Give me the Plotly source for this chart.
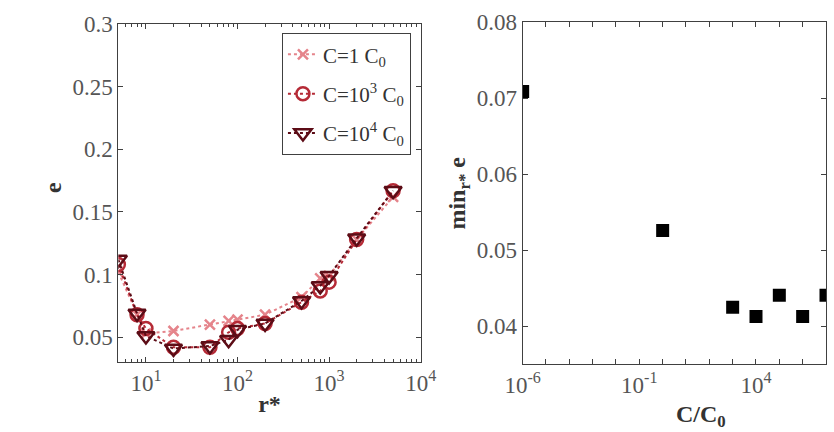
import plotly.graph_objects as go

r_star = [5, 8, 10, 20, 50, 80, 100, 200, 500, 800, 1000, 2000, 5000]
e_c1 = [0.102, 0.068, 0.053, 0.055, 0.060, 0.063, 0.064, 0.068, 0.082, 0.097, 0.099, 0.128, 0.162]
e_c1e3 = [0.108, 0.068, 0.057, 0.042, 0.042, 0.054, 0.057, 0.061, 0.078, 0.087, 0.094, 0.128, 0.167]
e_c1e4 = [0.112, 0.069, 0.051, 0.041, 0.043, 0.048, 0.056, 0.061, 0.079, 0.091, 0.099, 0.129, 0.167]
series_names = ["C=1 C<sub>0</sub>", "C=10<sup>3</sup> C<sub>0</sub>", "C=10<sup>4</sup> C<sub>0</sub>"]

c_ratio = [1e-6, 1, 1e3, 1e4, 1e5, 1e6, 1e7]
min_e = [0.0709, 0.0526, 0.0425, 0.0413, 0.0441, 0.0413, 0.0441]

left_yticks = [0.05, 0.1, 0.15, 0.2, 0.25, 0.3]
left_ylabels = ["0.05", "0.1", "0.15", "0.2", "0.25", "0.3"]
left_xticks = [10, 100, 1000, 10000]
left_xlabels = ["10<sup>1</sup>", "10<sup>2</sup>", "10<sup>3</sup>", "10<sup>4</sup>"]
left_xminor = [m * 10 ** d for d in range(0, 4) for m in range(2, 10) if m * 10 ** d >= 5]
right_yticks = [0.04, 0.05, 0.06, 0.07, 0.08]
right_ylabels = ["0.04", "0.05", "0.06", "0.07", "0.08"]
right_xexp = list(range(-6, 8))
right_xlabels = {-6: "10<sup>-6</sup>", -1: "10<sup>-1</sup>", 4: "10<sup>4</sup>"}

FONT = "Liberation Serif"
AX = "#404040"
TICKC = "#555555"
TITLEC = "#333333"

fig = go.Figure()

colors = ["#E5848B", "#B52A36", "#5C0C16"]
symbols = ["x-thin-open", "circle-open", "triangle-down-open"]
sizes = [10, 13, 15]
for i, (ys, nm, c, s, sz) in enumerate(zip([e_c1, e_c1e3, e_c1e4], series_names, colors, symbols, sizes)):
    fig.add_trace(go.Scatter(
        x=r_star, y=ys, name=nm, mode="lines+markers", legendgroup="g%d" % i,
        line=dict(color=c, width=2, dash="dot"),
        marker=dict(symbol=s, size=sz, color=c, line=dict(color=c, width=2.5)),
        xaxis="x", yaxis="y"))

fig.add_trace(go.Scatter(
    x=c_ratio, y=min_e, mode="markers", showlegend=False,
    marker=dict(symbol="square", size=13, color="black"),
    xaxis="x2", yaxis="y2"))

axcommon = dict(showline=True, linecolor=AX, linewidth=1.2, mirror="allticks",
                ticks="inside", tickcolor=AX, ticklen=5, showgrid=False, zeroline=False,
                automargin=False,
                tickfont=dict(family=FONT, size=23, color=TICKC))
titlefont = dict(family=FONT, size=24, color=TITLEC)

fig.update_layout(
    width=834, height=432, margin=dict(l=0, r=0, t=0, b=0, autoexpand=False),
    paper_bgcolor="white", plot_bgcolor="white",
    font=dict(family=FONT, color=TITLEC),
    xaxis=dict(domain=[0.1419, 0.5044], type="log", range=[0.699, 4.0], anchor="y",
               tickvals=left_xticks, ticktext=left_xlabels,
               minor=dict(ticks="inside", ticklen=3, tickcolor=AX, showgrid=False,
                          tickmode="array", tickvals=left_xminor),
               title=dict(text="<b>r*</b>", font=titlefont, standoff=0),
               **axcommon),
    yaxis=dict(domain=[0.1613, 0.9444], range=[0.03, 0.3], anchor="x",
               tickvals=left_yticks, ticktext=left_ylabels,
               **axcommon),
    xaxis2=dict(domain=[0.6267, 0.9904], type="log", range=[-6, 7], anchor="y2",
                tickvals=[10.0 ** k for k in right_xexp],
                ticktext=[right_xlabels.get(k, "") for k in right_xexp],
                **axcommon),
    yaxis2=dict(domain=[0.1567, 0.9484], range=[0.035, 0.08], anchor="x2",
                tickvals=right_yticks, ticktext=right_ylabels,
                title=dict(text="<b>min<sub>r*</sub> e</b>", font=titlefont, standoff=4),
                **axcommon),
    legend=dict(x=0.4925, xanchor="right", y=0.9236, yanchor="top",
                bordercolor=AX, borderwidth=1.2, bgcolor="white",
                font=dict(family=FONT, size=21, color=TITLEC),
                itemwidth=30, tracegroupgap=9),
    annotations=[
        dict(text="<b>C/C<sub>0</sub></b>", font=titlefont,
             xref="paper", yref="paper", x=701 / 834, y=1 - 399 / 432,
             xanchor="center", yanchor="top", showarrow=False),
        dict(text="<b>e</b>", font=titlefont, textangle=-90,
             xref="paper", yref="paper", x=53 / 834, y=1 - 187 / 432,
             xanchor="center", yanchor="middle", showarrow=False),
    ],
)

fig.write_html("out.html")
